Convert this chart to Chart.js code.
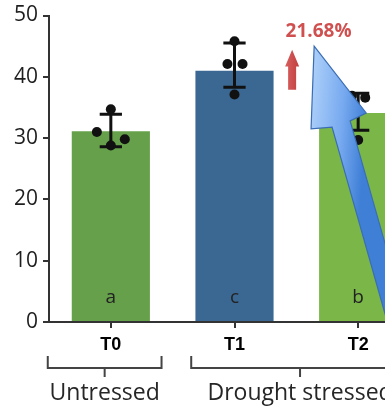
<!DOCTYPE html>
<html><head><meta charset="utf-8">
<script src="https://cdn.jsdelivr.net/npm/chart.js@4.4.0/dist/chart.umd.min.js"></script>
<style>html,body{margin:0;padding:0;overflow:hidden;background:#fff;width:385px;height:411px}
#wrap{width:432px;height:411px;position:relative}</style></head>
<body><div id="wrap"><canvas id="c"></canvas></div>
<script>
const categories = ['T0', 'T1', 'T2'];
const barValues = [31.1, 41.0, 34.1];
const errUpper = [33.9, 45.5, 37.3];
const errLower = [28.6, 38.3, 31.3];
const letters = ['a', 'c', 'b'];
const barColors = ['#66a04b', '#3b6893', '#7ab648'];
const dotGroup = [0, 0, 0, 0, 1, 1, 1, 1, 2, 2, 2, 2];
const dotOffset = [0, -0.113, 0.113, 0, 0, -0.057, 0.065, 0, -0.05, 0.057, -0.09, 0];
const dotValues = [34.7, 31.0, 29.8, 28.8, 45.8, 42.1, 42.1, 37.1, 36.9, 36.6, 33.4, 29.7];
const yTicks = [0, 10, 20, 30, 40, 50];
const groups = ['Untressed', 'Drought stressed'];
const groupSpan = [[-0.51, 0.41], [0.65, 2.41]];
const changeLabel = '21.68%';

const annot = {
  id: 'annot',
  afterDatasetDraw(chart, args) {
    if (args.meta.type !== 'bar') return;
    const c = chart.ctx, xs = chart.scales.xd, y = chart.scales.y;
    c.save();
    c.strokeStyle = '#111'; c.lineWidth = 3; c.lineCap = 'butt';
    for (let i = 0; i < categories.length; i++) {
      const px = xs.getPixelForValue(i);
      const t = y.getPixelForValue(errUpper[i]), b = y.getPixelForValue(errLower[i]);
      const hw = xs.getPixelForValue(i + 0.09) - px;
      c.beginPath();
      c.moveTo(px, t); c.lineTo(px, b);
      c.moveTo(px - hw, t); c.lineTo(px + hw, t);
      c.moveTo(px - hw, b); c.lineTo(px + hw, b);
      c.stroke();
    }
    c.restore();
  },
  afterDatasetsDraw(chart) {
    const c = chart.ctx, xs = chart.scales.xd, y = chart.scales.y;
    c.save();
    c.font = '500 19px "Open Sans"'; c.fillStyle = '#222';
    c.textAlign = 'center'; c.textBaseline = 'middle';
    for (let i = 0; i < letters.length; i++) {
      c.fillText(letters[i], xs.getPixelForValue(i), y.getPixelForValue(4));
    }
    c.restore();
  },
  afterDraw(chart) {
    const c = chart.ctx, xs = chart.scales.xd, y = chart.scales.y;
    const bot = chart.chartArea.bottom;
    c.save();
    c.strokeStyle = '#444'; c.lineWidth = 2;
    c.font = '23px "Open Sans"'; c.fillStyle = '#262626'; c.textAlign = 'center'; c.textBaseline = 'alphabetic';
    for (let g = 0; g < groups.length; g++) {
      const l = xs.getPixelForValue(groupSpan[g][0]), r = xs.getPixelForValue(groupSpan[g][1]);
      const m = (l + r) / 2;
      c.beginPath();
      c.moveTo(l, bot + 34); c.lineTo(l, bot + 46); c.lineTo(r, bot + 46); c.lineTo(r, bot + 34);
      c.moveTo(m, bot + 46); c.lineTo(m, bot + 55);
      c.stroke();
      c.fillText(groups[g], m, bot + 78);
    }
    c.font = 'bold 19px "Open Sans"'; c.fillStyle = '#d05050'; c.textBaseline = 'middle';
    c.fillText(changeLabel, xs.getPixelForValue(1.68), y.getPixelForValue(47.3));
    const ax = xs.getPixelForValue(1.466);
    const tipY = y.getPixelForValue(44.4), baseY = y.getPixelForValue(41.7), tailY = y.getPixelForValue(37.9);
    const rg = c.createLinearGradient(ax - 7, 0, ax + 7, 0);
    rg.addColorStop(0, '#d86060'); rg.addColorStop(1, '#c23e3e');
    c.fillStyle = rg;
    c.beginPath();
    c.moveTo(ax, tipY); c.lineTo(ax + 7, baseY); c.lineTo(ax + 4, baseY); c.lineTo(ax + 4, tailY);
    c.lineTo(ax - 4, tailY); c.lineTo(ax - 4, baseY); c.lineTo(ax - 7, baseY); c.closePath();
    c.fill();
    const P = (i, v) => [xs.getPixelForValue(i), y.getPixelForValue(v)];
    const pts = [P(1.644, 45.0), P(2.065, 34.1), P(1.935, 32.8), P(2.60, -14.3), P(2.437, -14.3), P(1.789, 31.8), P(1.619, 31.5)];
    const g1 = c.createLinearGradient(pts[6][0], pts[6][1] - 10, pts[1][0], pts[1][1] + 10);
    g1.addColorStop(0, '#a9cdf8'); g1.addColorStop(0.55, '#78aaf0'); g1.addColorStop(1, '#3f7fd6');
    c.fillStyle = g1; c.strokeStyle = '#3a6db3'; c.lineWidth = 1.2; c.lineJoin = 'miter';
    c.beginPath();
    c.moveTo(pts[0][0], pts[0][1]);
    for (let k = 1; k < pts.length; k++) c.lineTo(pts[k][0], pts[k][1]);
    c.closePath(); c.fill(); c.stroke();
    c.restore();
  }
};

new Chart(document.getElementById('c'), {
  type: 'bar',
  data: {
    labels: categories,
    datasets: [
      { type: 'bar', data: barValues, backgroundColor: barColors, barPercentage: 0.632, categoryPercentage: 1, grouped: false, order: 2, xAxisID: 'x', yAxisID: 'y' },
      { type: 'scatter', data: dotValues.map((v, i) => ({ x: dotGroup[i] + dotOffset[i], y: v })), xAxisID: 'xd', yAxisID: 'y',
        pointRadius: 5, pointBackgroundColor: '#111', pointBorderWidth: 0, order: 1 }
    ]
  },
  options: {
    responsive: true, maintainAspectRatio: false, animation: false, devicePixelRatio: 1,
    layout: { padding: { top: 11, left: 0, right: 12, bottom: 0 } },
    plugins: { legend: { display: false }, tooltip: { enabled: false } },
    scales: {
      x: { type: 'category', offset: true,
        grid: { display: true, drawOnChartArea: false, offset: false, tickLength: 6, color: '#333', lineWidth: 2 },
        border: { color: '#333', width: 2 },
        ticks: { font: { family: 'Liberation Sans', size: 18, weight: 'bold' }, color: '#000', padding: 6 },
        afterFit(s) { s.height = 89; } },
      xd: { type: 'linear', min: -0.5, max: 2.5, offset: false, display: false },
      y: { min: 0, max: 50,
        afterBuildTicks(s) { s.ticks = yTicks.map(v => ({ value: v })); },
        grid: { drawOnChartArea: false, tickLength: 6, color: '#333', lineWidth: 2 },
        border: { color: '#333', width: 2 },
        ticks: { font: { family: 'Open Sans', size: 21, weight: 500, lineHeight: 1 }, color: '#1e1e1e', padding: 5 },
        afterFit(s) { s.width = 49; } }
    }
  },
  plugins: [annot]
});
</script></body></html>
